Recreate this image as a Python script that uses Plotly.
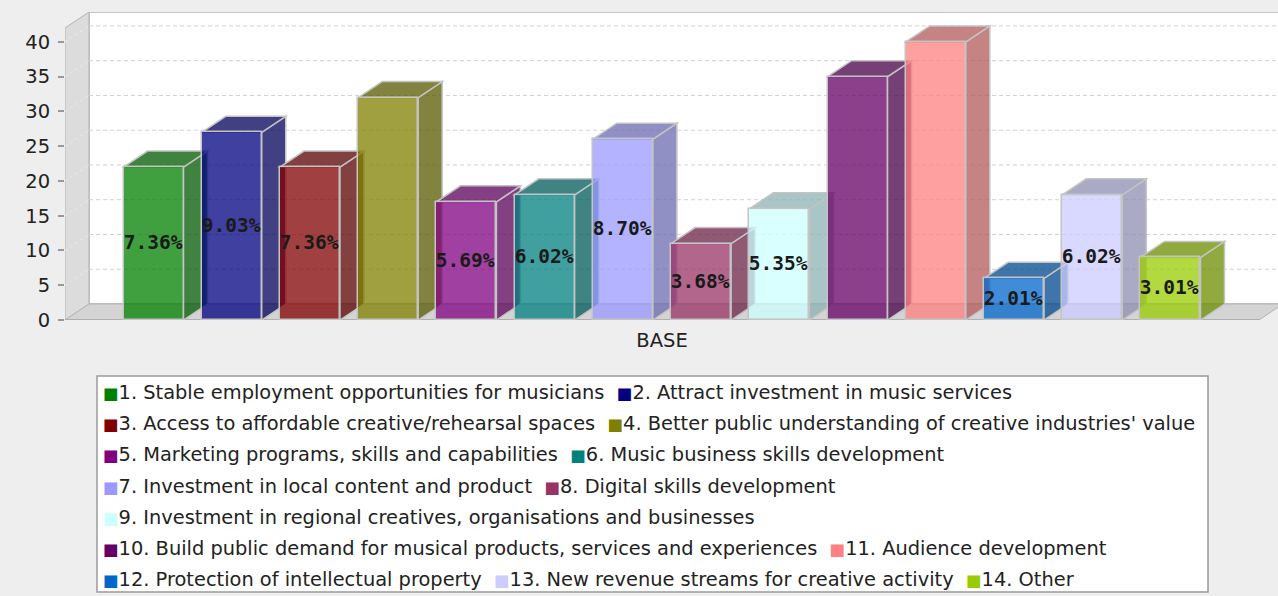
import plotly.graph_objects as go

# ---------------- data ----------------
categories = ["BASE"]
series_names = [
    "1. Stable employment opportunities for musicians",
    "2. Attract investment in music services",
    "3. Access to affordable creative/rehearsal spaces",
    "4. Better public understanding of creative industries' value",
    "5. Marketing programs, skills and capabilities",
    "6. Music business skills development",
    "7. Investment in local content and product",
    "8. Digital skills development",
    "9. Investment in regional creatives, organisations and businesses",
    "10. Build public demand for musical products, services and experiences",
    "11. Audience development",
    "12. Protection of intellectual property",
    "13. New revenue streams for creative activity",
    "14. Other",
]
values = [22, 27, 22, 32, 17, 18, 26, 11, 16, 35, 40, 6, 18, 9]
label_shown = [True, True, True, False, True, True, True, True, True,
               False, False, True, True, True]
y_ticks = [0, 5, 10, 15, 20, 25, 30, 35, 40]

# ---------------- style ----------------
colors = ["#008000", "#000080", "#800000", "#808000", "#800080", "#008080",
          "#9999FF", "#993366", "#CCFFFF", "#660066", "#FF8080", "#0066CC",
          "#CCCCFF", "#99CC00"]
legend_rows = [[0, 1], [2, 3], [4, 5], [6, 7], [8], [9, 10], [11, 12, 13]]

W, H = 1278, 596
L, T = 65, 12
PLOT_BOTTOM = 320
PLOT_W = W - L
PLOT_H = PLOT_BOTTOM - T
PX_X = 78.23            # pixels per bar step
BAR_C0 = 153.5          # pixel centre of first bar
BW = 60 / PX_X
X_MIN = (L - BAR_C0) / PX_X
X_MAX = X_MIN + PLOT_W / PX_X
N = len(values)
X_FRONT_R = (N - 1) - X_MIN
Y_FRONT_TOP = 42
PY = (PLOT_BOTTOM - 28) / Y_FRONT_TOP
DX = 24 / PX_X
DY = 16 / PY
Y_MAX = Y_FRONT_TOP + DY
EDGE = "#c4c4c4"
FONT = "DejaVu Sans"


def rgba(hexc, a, f=1.0):
    r, g, b = (int(hexc[i:i + 2], 16) for i in (1, 3, 5))
    r, g, b = int(r * f), int(g * f), int(b * f)
    return f"rgba({r},{g},{b},{a})"


def px_x(p):
    return (p - L) / PLOT_W


def px_y(p):
    return (PLOT_BOTTOM - p) / PLOT_H


def path(pts):
    return "M " + " L ".join(f"{x},{y}" for x, y in pts) + " Z"


shapes = []
# legend background
shapes.append(dict(type="rect", xref="paper", yref="paper", layer="below",
                   x0=px_x(97), x1=px_x(1208), y0=px_y(376), y1=px_y(592),
                   fillcolor="white", line=dict(width=0)))
# back wall
shapes.append(dict(type="rect", xref="x", yref="y", layer="below",
                   x0=X_MIN + DX, x1=X_MAX + 1, y0=DY, y1=Y_MAX,
                   fillcolor="white", line=dict(color=EDGE, width=2)))
# left wall
shapes.append(dict(type="path", xref="x", yref="y", layer="below",
                   path=path([(X_MIN, 0), (X_MIN, Y_FRONT_TOP),
                              (X_MIN + DX, Y_MAX), (X_MIN + DX, DY)]),
                   fillcolor="#dcdcdc", line=dict(color="#b4b4b4", width=1)))
# floor
shapes.append(dict(type="path", xref="x", yref="y", layer="below",
                   path=path([(X_MIN, 0), (X_FRONT_R, 0),
                              (X_FRONT_R + DX, DY), (X_MIN + DX, DY)]),
                   fillcolor="#d4d4d4", line=dict(color="#b4b4b4", width=1)))
shapes.append(dict(type="line", xref="x", yref="y", layer="below",
                   x0=X_MIN, x1=X_FRONT_R, y0=0, y1=0,
                   line=dict(color="#a8a8a8", width=1.5)))
# gridlines on the back wall and the left wall
for t in y_ticks[1:]:
    shapes.append(dict(type="line", xref="x", yref="y", layer="below",
                       x0=X_MIN + DX, x1=X_MAX, y0=t + DY, y1=t + DY,
                       line=dict(color="#d0d0d0", width=1, dash="4px,3px")))
    shapes.append(dict(type="line", xref="x", yref="y", layer="below",
                       x0=X_MIN, x1=X_MIN + DX, y0=t, y1=t + DY,
                       line=dict(color="#ebebeb", width=1, dash="3px,3px")))

# bar side and top faces
for i, v in enumerate(values):
    xl, xr = i - BW / 2, i + BW / 2
    dark = rgba(colors[i], 0.75, 0.7)
    shapes.append(dict(type="path", xref="x", yref="y", layer="between",
                       path=path([(xr, 0), (xr + DX, DY), (xr + DX, v + DY), (xr, v)]),
                       fillcolor=dark, line=dict(color=EDGE, width=1.5)))
    shapes.append(dict(type="path", xref="x", yref="y", layer="between",
                       path=path([(xl, v), (xl + DX, v + DY), (xr + DX, v + DY), (xr, v)]),
                       fillcolor=dark, line=dict(color=EDGE, width=1.5)))

total = sum(values)
fig = go.Figure()
for i, v in enumerate(values):
    lab = f"<b>{v / total * 100:.2f}%</b>" if label_shown[i] else ""
    fig.add_trace(go.Bar(
        x=[i], y=[v], width=BW, name=series_names[i],
        marker=dict(color=rgba(colors[i], 0.75), line=dict(color=EDGE, width=1.5)),
        text=[lab], textposition="inside", insidetextanchor="middle",
        textangle=0, constraintext="none",
        textfont=dict(family="DejaVu Sans Mono", size=19.5, color="#1a1a1a"),
        showlegend=False, hovertemplate=series_names[i] + ": %{y}<extra></extra>",
    ))

# legend border
shapes.append(dict(type="rect", xref="paper", yref="paper", layer="above",
                   x0=px_x(97), x1=px_x(1208), y0=px_y(376), y1=px_y(592),
                   fillcolor="rgba(0,0,0,0)", line=dict(color="#9a9a9a", width=1.5)))

annotations = []
row_y0, row_step = 392.5, 31.2
for r, row in enumerate(legend_rows):
    parts = [f"<span style='color:{colors[k]};font-size:16.5px'>\u25a0</span>{series_names[k]}"
             for k in row]
    annotations.append(dict(
        xref="paper", yref="paper", x=px_x(100.5), y=px_y(row_y0 + r * row_step),
        xanchor="left", yanchor="middle", showarrow=False,
        text="\u00a0\u00a0".join(parts),
        font=dict(family=FONT, size=19.4, color="#222222"),
    ))

fig.update_layout(
    width=W, height=H,
    margin=dict(l=L, r=0, t=T, b=H - PLOT_BOTTOM, pad=0),
    paper_bgcolor="#eeeeee", plot_bgcolor="#eeeeee",
    barmode="overlay", bargap=0,
    showlegend=False,
    shapes=shapes, annotations=annotations,
    xaxis=dict(range=[X_MIN, X_MAX], showgrid=False, zeroline=False,
               showline=False, ticks="", tickmode="array",
               tickvals=[(N - 1) / 2], ticktext=categories,
               tickfont=dict(family=FONT, size=19.5, color="#222222"),
               ticklabelstandoff=6, fixedrange=True),
    yaxis=dict(range=[0, Y_MAX], showgrid=False, zeroline=False,
               showline=False, ticks="outside", ticklen=6, tickwidth=1.5,
               tickcolor="#999999", tickmode="array", tickvals=y_ticks,
               tickfont=dict(family=FONT, size=19.5, color="#222222"),
               ticklabelstandoff=4, fixedrange=True),
)

fig.write_html(
    "out.html",
    config={"displayModeBar": False},
    post_script="document.body.style.margin='0px';document.body.style.padding='0px';"
                "document.body.style.overflow='hidden';",
)
